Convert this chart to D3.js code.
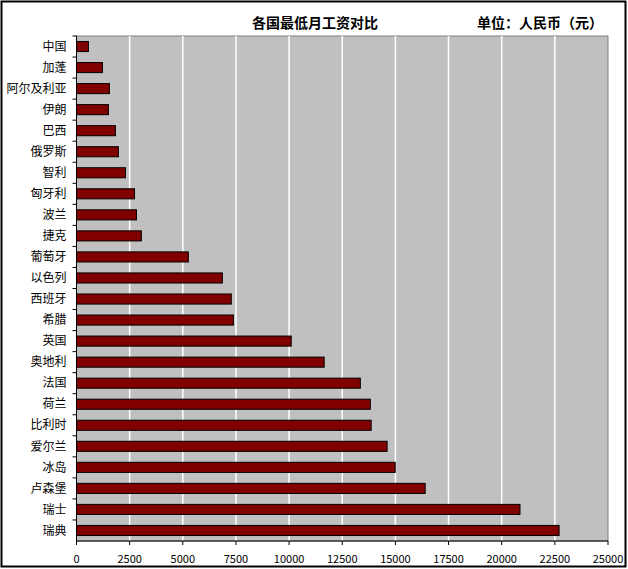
<!DOCTYPE html>
<html><head><meta charset="utf-8">
<script src="https://cdn.jsdelivr.net/npm/d3@7"></script>
<style>body{margin:0;background:#fff}text{font-family:"Noto Sans CJK SC",sans-serif}</style>
</head><body><svg id="c" width="628" height="569"></svg>
<script>
// categories top to bottom
const countries = ["中国","加蓬","阿尔及利亚","伊朗","巴西","俄罗斯","智利","匈牙利","波兰","捷克","葡萄牙","以色列","西班牙","希腊","英国","奥地利","法国","荷兰","比利时","爱尔兰","冰岛","卢森堡","瑞士","瑞典"];
const wages = [560,1220,1550,1500,1830,1970,2300,2730,2820,3050,5260,6860,7280,7380,10100,11650,13350,13820,13860,14610,14990,16400,20860,22700];
const xTicks = [0,2500,5000,7500,10000,12500,15000,17500,20000,22500,25000];

const svg = d3.select("#c");
const L = 76.5, R = 608, T = 36, B = 541;

svg.append("rect").attr("x",1.5).attr("y",1.5).attr("width",624).attr("height",565)
    .attr("fill","none").attr("stroke","#000").attr("stroke-width",2);

const x = d3.scaleLinear().domain([0,25000]).range([L,R]);
const y = d3.scaleBand().domain(countries).range([T,B]).paddingInner(0.52).paddingOuter(0.26);
const yb = d3.scaleBand().domain(countries).range([T,B]);

svg.append("rect").attr("x",L).attr("y",T).attr("width",R-L).attr("height",B-T)
    .attr("fill","#c0c0c0").attr("stroke","#808080");

svg.append("g").selectAll("line").data(xTicks.slice(1,-1)).join("line")
    .attr("x1",d=>x(d)).attr("x2",d=>x(d)).attr("y1",T).attr("y2",B)
    .attr("stroke","#fff").attr("stroke-width",1.5);

svg.append("g").selectAll("rect").data(countries).join("rect")
    .attr("x",x(0)).attr("y",d=>y(d)).attr("height",y.bandwidth())
    .attr("width",(d,i)=>x(wages[i])-x(0))
    .attr("fill","#800000").attr("stroke","#000").attr("stroke-width",1);

// axes
svg.append("line").attr("x1",L).attr("x2",L).attr("y1",T).attr("y2",B).attr("stroke","#000");
svg.append("line").attr("x1",L).attr("x2",R).attr("y1",B).attr("y2",B).attr("stroke","#000");
svg.append("g").selectAll("line").data(countries).join("line")
    .attr("x1",L-4).attr("x2",L).attr("y1",d=>yb(d)).attr("y2",d=>yb(d)).attr("stroke","#000");
svg.append("g").selectAll("line").data(xTicks).join("line")
    .attr("x1",d=>x(d)).attr("x2",d=>x(d)).attr("y1",B).attr("y2",B+4).attr("stroke","#000");

svg.append("g").selectAll("text").data(countries).join("text")
    .attr("x",L-10).attr("y",d=>yb(d)+yb.bandwidth()/2).attr("dy","0.35em")
    .attr("text-anchor","end").attr("font-size",12).text(d=>d);
svg.append("g").selectAll("text").data(xTicks).join("text")
    .attr("x",d=>x(d)).attr("y",B+22).attr("text-anchor","middle")
    .attr("font-size",11).text(d=>d);

svg.append("text").attr("x",315).attr("y",28).attr("text-anchor","middle")
    .attr("font-size",14).attr("font-weight","bold").text("各国最低月工资对比");
svg.append("text").attr("x",540).attr("y",28).attr("text-anchor","middle")
    .attr("font-size",14).attr("font-weight","bold").text("单位：人民币（元）");
</script></body></html>
